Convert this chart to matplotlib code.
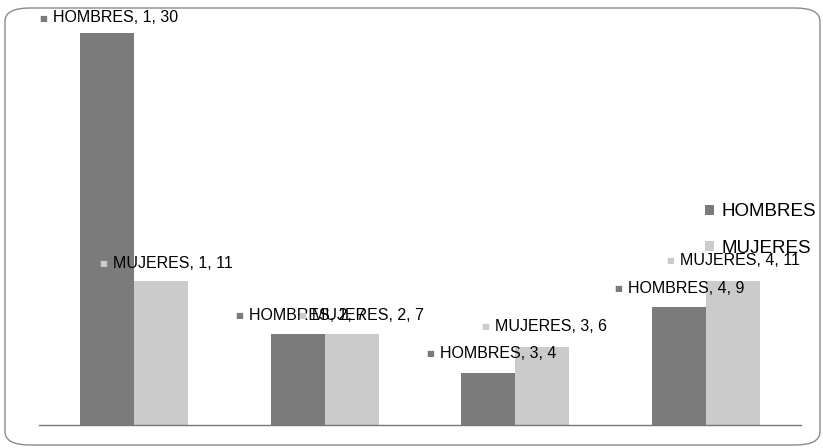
import numpy as np
import matplotlib
matplotlib.use('Agg')
import matplotlib.pyplot as plt
from matplotlib.patches import FancyBboxPatch

plt.rcParams['font.family'] = ['Liberation Sans', 'DejaVu Sans']

# data
categorias = [1, 2, 3, 4]
hombres = [30, 7, 4, 9]
mujeres = [11, 7, 6, 11]
series = ['HOMBRES', 'MUJERES']

# label offsets (pixels) from bar top centre: hombres, mujeres
off_h = [(-67, 15), (-62, 18), (-61, 19), (-64, 19)]
off_m = [(-61, 18), (-53, 18), (-60, 20), (-66, 21)]

col_h = '#7b7b7b'
col_m = '#cbcbcb'

W, H = 823, 448
fig = plt.figure(figsize=(W / 100, H / 100), dpi=100)
ax = fig.add_axes([38.7 / W, 1 - 425 / H, 762.7 / W, 392 / H])

x = np.arange(len(categorias))
bw = 0.283
b1 = ax.bar(x - bw / 2, hombres, bw, color=col_h, label=series[0])
b2 = ax.bar(x + bw / 2, mujeres, bw, color=col_m, label=series[1])

ax.set_xlim(-0.5, 3.5)
ax.set_ylim(0, 30)
for s in ['top', 'right', 'left']:
    ax.spines[s].set_visible(False)
ax.spines['bottom'].set_color('#777777')
ax.spines['bottom'].set_linewidth(1)
ax.set_xticks([])
ax.set_yticks([])


def etiqueta(xb, val, name, cat, off, color):
    dx, dy = off
    ax.annotate('■', xy=(xb, val), xytext=(dx + 3, dy), textcoords='offset pixels',
                ha='center', va='center', fontsize=6, color=color,
                family=['DejaVu Sans'], annotation_clip=False)
    ax.annotate('%s, %d, %d' % (name, cat, val), xy=(xb, val), xytext=(dx + 13, dy),
                textcoords='offset pixels', ha='left', va='center', fontsize=11.5,
                color='black', annotation_clip=False)


for i in range(len(categorias)):
    etiqueta(x[i] - bw / 2, hombres[i], series[0], categorias[i], off_h[i], col_h)
    etiqueta(x[i] + bw / 2, mujeres[i], series[1], categorias[i], off_m[i], col_m)

leg = ax.legend(loc='upper left', bbox_to_anchor=(696 / W, 1 - 194 / H),
                bbox_transform=fig.transFigure, frameon=False, fontsize=13.5,
                handlelength=0.45, handleheight=0.45, handletextpad=0.4,
                labelspacing=1.05, borderpad=0)

# rounded chart border
border = FancyBboxPatch((5 / W, 1 - 445 / H), 815 / W, 437 / H,
                        boxstyle='round,pad=0,rounding_size=0.03',
                        transform=fig.transFigure, fill=False,
                        edgecolor='#8a8a8a', linewidth=1)
fig.patches.append(border)

fig.savefig('out.png', dpi=100)
